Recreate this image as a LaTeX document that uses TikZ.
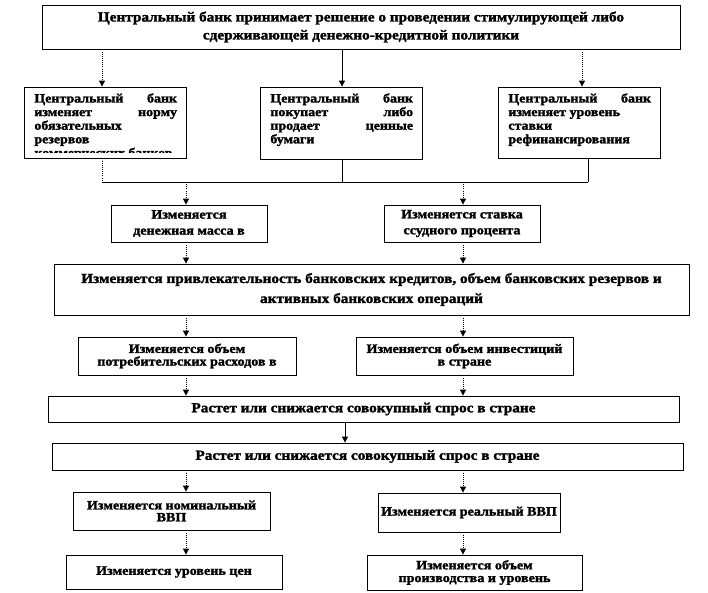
\documentclass[tikz,border=0pt]{standalone}
\usepackage{fontspec}
\setmainfont{Liberation Serif}[FakeStretch=1.1, BoldFeatures={FakeBold=1.8}]
\usetikzlibrary{arrows.meta}

\newcommand{\cbtext}[1]{\parbox[t]{107pt}{\noindent\hyphenpenalty=10000\relax\tolerance=10000\relax #1}}

\begin{document}
\begin{tikzpicture}[
        x=0.75pt, y=-0.75pt,
        box/.style={
            rectangle,
            draw=black,
            line width=0.6pt,
            inner sep=0pt,
            align=center,
            font=\bfseries\fontsize{9.6pt}{12pt}\selectfont
        },
        wh/.style 2 args={
            minimum width=#1*0.75pt,
            minimum height=#2*0.75pt
        },
        lead/.style={
            font=\bfseries\fontsize{9.6pt}{#1pt}\selectfont
        },
        wide/.style={
            font=\bfseries\fontsize{10.4pt}{#1pt}\selectfont
        },
        jtext/.style={
            inner sep=0pt,
            minimum width=0pt,
            minimum height=0pt,
            anchor=north west,
            font=\bfseries\fontsize{9.5pt}{10.2pt}\selectfont
        },
        cbbox/.style={
            box,
            path picture={
                \clip ([yshift=4pt]path picture bounding box.south west) rectangle (path picture bounding box.north east);
                \node[jtext] at ([xshift=7.5pt, yshift=-4.5pt]path picture bounding box.north west) {\cbtext{#1}};
            }
        },
        dotline/.style={
            densely dotted,
            line width=0.6pt
        },
        solline/.style={
            line width=0.6pt
        },
        dotarr/.style={
            dotline,
            -{Triangle[length=4.5pt, width=4.5pt]}
        },
        solarr/.style={
            solline,
            -{Triangle[length=4.5pt, width=4.5pt]}
        }
    ]

    \useasboundingbox (0,0) rectangle (708,593);

    % Решение центрального банка
    \node[box, wh={638}{44}, wide=13.5] (top) at (361,27) {Центральный банк принимает решение о проведении стимулирующей либо\\ сдерживающей денежно-кредитной политики};

    % Инструменты
    \node[cbbox={Центральный банк\linebreak изменяет норму\linebreak обязательных\\ резервов\\ коммерческих банков}, wh={162}{71}] (b1) at (105,122.5) {};
    \node[cbbox={Центральный банк\linebreak покупает либо\linebreak продает ценные\linebreak бумаги}, wh={162}{72}] (b2) at (341,123) {};
    \node[cbbox={Центральный банк\linebreak изменяет уровень\\ ставки\\ рефинансирования}, wh={162}{71}] (b3) at (579,122.5) {};

    % Денежная масса и процент
    \node[box, wh={156}{37}] (c1) at (189,223.5) {Изменяется\\ денежная масса в};
    \node[box, wh={156}{37}] (c2) at (462,223.5) {Изменяется ставка\\ ссудного процента};

    \node[box, wh={635}{51}, wide=15] (big) at (371.5,289.5) {Изменяется привлекательность банковских кредитов, объем банковских резервов и\\ активных банковских операций};

    % Расходы и инвестиции
    \node[box, wh={218}{38}, lead=9.5] (d1) at (187,356) {Изменяется объем\\ потребительских расходов в};
    \node[box, wh={217}{38}, lead=9.5] (d2) at (464.5,356) {Изменяется объем инвестиций\\ в стране};

    % Совокупный спрос
    \node[box, wh={631}{26}, wide=12] (e) at (363.5,409) {Растет или снижается совокупный спрос в стране};
    \node[box, wh={631}{27}, wide=12] (f) at (367.5,456.5) {Растет или снижается совокупный спрос в стране};

    % ВВП
    \node[box, wh={197}{38}, lead=9] (g1) at (171.5,511) {Изменяется номинальный\\ ВВП};
    \node[box, wh={182}{39}] (g2) at (469,512.5) {Изменяется реальный ВВП};

    \node[box, wh={216}{34}] (h1) at (174,572) {Изменяется уровень цен};
    \node[box, wh={215}{35}, lead=9.5] (h2) at (474.5,572.5) {Изменяется объем\\ производства и уровень};

    % Опорные точки линий
    \coordinate (xa) at (102,0);
    \coordinate (xb) at (342,0);
    \coordinate (xc) at (582,0);
    \coordinate (xd) at (588,0);
    \coordinate (xl) at (186,0);
    \coordinate (xr) at (463,0);
    \coordinate (xm) at (345,0);
    \coordinate (jl) at (102,182);
    \coordinate (jr) at (588,182);

    % Стрелки
    \draw[dotarr] (top.south -| xa) -- (b1.north -| xa);
    \draw[solarr] (top.south -| xb) -- (b2.north -| xb);
    \draw[dotarr] (top.south -| xc) -- (b3.north -| xc);

    \draw[dotline] (b1.south -| xa) -- (jl);
    \draw[solline] (b2.south -| xb) -- (jl -| xb);
    \draw[solline] (b3.south -| xd) -- (jr);
    \draw[solline] (jl) -- (jr);

    \draw[dotarr] (jl -| xl) -- (c1.north -| xl);
    \draw[dotarr] (jl -| xr) -- (c2.north -| xr);
    \draw[dotarr] (c1.south -| xl) -- (big.north -| xl);
    \draw[dotarr] (c2.south -| xr) -- (big.north -| xr);
    \draw[dotarr] (big.south -| xl) -- (d1.north -| xl);
    \draw[dotarr] (big.south -| xr) -- (d2.north -| xr);
    \draw[dotarr] (d1.south -| xl) -- (e.north -| xl);
    \draw[dotarr] (d2.south -| xr) -- (e.north -| xr);
    \draw[solarr] (e.south -| xm) -- (f.north -| xm);
    \draw[dotarr] (f.south -| xl) -- (g1.north -| xl);
    \draw[dotarr] (f.south -| xr) -- (g2.north -| xr);
    \draw[dotarr] (g1.south -| xl) -- (h1.north -| xl);
    \draw[dotarr] (g2.south -| xr) -- (h2.north -| xr);

\end{tikzpicture}
\end{document}
